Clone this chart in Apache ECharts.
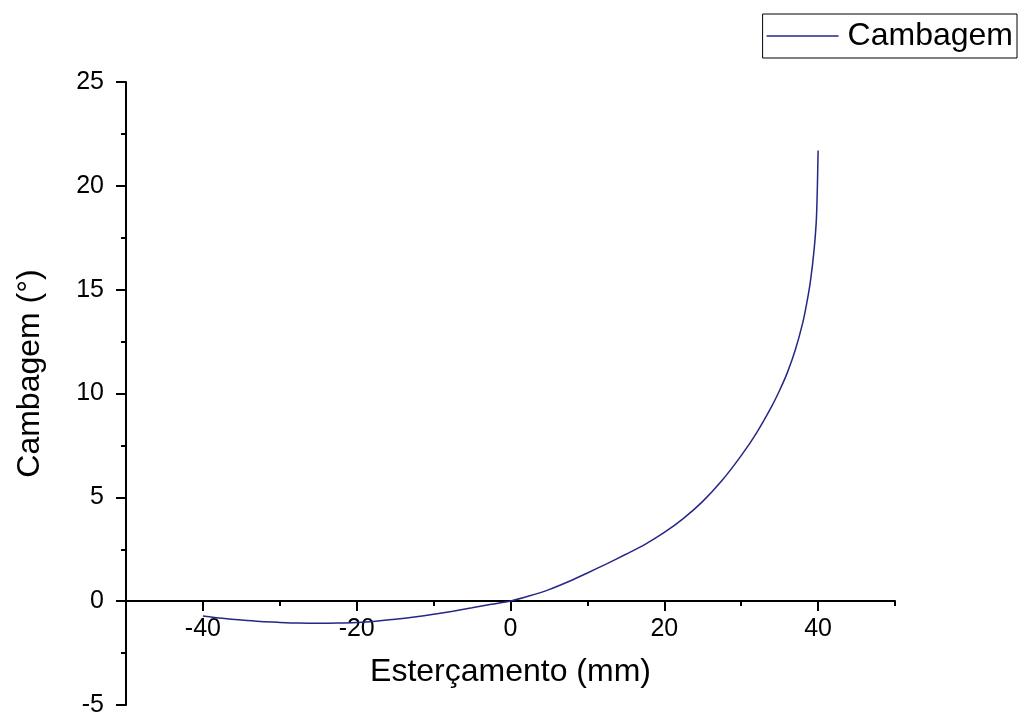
<!DOCTYPE html>
<html>
<head>
<meta charset="utf-8">
<title>Cambagem x Esterçamento</title>
<script src="https://cdn.jsdelivr.net/npm/echarts@6/dist/echarts.min.js"></script>
<style>
  html, body { margin: 0; padding: 0; background: #ffffff; }
  #chart { width: 1022px; height: 713px; }
</style>
</head>
<body>
<div id="chart"></div>
<script>
// Steering travel (mm) and resulting camber angle (degrees)
const esterc = [
  -40, -37.5, -35, -32.5, -30, -27.5, -25, -22.5, -20, -17.5, -15, -12.5, -10, -7.5, -5, -2.5,
  0, 2.5, 5, 7.5, 10, 12.5, 15, 17.5, 20, 22.5, 25, 27.5, 30, 32, 34, 35, 36, 37, 38, 38.5, 39, 39.5, 39.8, 40
];
const cambagem = [
  -0.72, -0.83, -0.92, -0.99, -1.03, -1.06, -1.07, -1.06, -1.03, -0.97, -0.88, -0.77, -0.64, -0.49, -0.33, -0.16,
  0, 0.25, 0.55, 0.93, 1.35, 1.79, 2.25, 2.73, 3.3, 3.98, 4.8, 5.8, 7.0, 8.1, 9.4, 10.15, 11.0, 12.05, 13.4, 14.3, 15.4, 17.0, 18.6, 21.7
];

// Axis ticks
const xMajorTicks = [-40, -20, 0, 20, 40];
const xMinorTicks = [-50, -30, -10, 10, 30, 50];

const seriesName = 'Cambagem';
const xTitle = 'Esterçamento (mm)';
const yTitle = 'Cambagem (°)';

const FONT = "'Liberation Sans', Arial, sans-serif";
const points = esterc.map((x, i) => [x, cambagem[i]]);

const chart = echarts.init(document.getElementById('chart'), null, { renderer: 'canvas' });

// Grid 0 carries the full-height camber axis (-5..25).
// Grid 1 spans 0..25 with the same scale, so its bottom edge is the zero line
// where the steering axis sits.
const AX = { color: '#000000', width: 2 };

chart.setOption({
  backgroundColor: '#ffffff',
  animation: false,
  textStyle: { fontFamily: FONT },
  grid: [
    { left: 126, right: 127, top: 82, bottom: 8, containLabel: false, outerBoundsMode: 'none' },
    { left: 126, right: 127, top: 82, bottom: 112, containLabel: false, outerBoundsMode: 'none' }
  ],
  legend: {
    data: [{ name: seriesName, icon: 'rect' }],
    right: 5,
    top: 14,
    orient: 'horizontal',
    itemWidth: 72,
    itemHeight: 1.5,
    itemGap: 10,
    padding: [6, 4, 6, 4],
    borderColor: '#000000',
    borderWidth: 1,
    textStyle: { fontFamily: FONT, fontSize: 32, color: '#000000', padding: [0, 0, 0, 4] }
  },
  xAxis: [
    {
      gridIndex: 1,
      type: 'value',
      min: -50,
      max: 50,
      position: 'bottom',
      splitLine: { show: false },
      axisLine: { show: true, onZero: false, lineStyle: AX },
      axisTick: { show: true, customValues: xMajorTicks, length: 10, inside: false, lineStyle: AX },
      axisLabel: { customValues: xMajorTicks, margin: 16, fontFamily: FONT, fontSize: 25, color: '#000000' },
      name: xTitle,
      nameLocation: 'middle',
      nameGap: 55,
      nameTextStyle: { fontFamily: FONT, fontSize: 32, color: '#000000' }
    },
    {
      gridIndex: 1,
      type: 'value',
      min: -50,
      max: 50,
      position: 'bottom',
      splitLine: { show: false },
      axisLine: { show: false, onZero: false },
      axisTick: { show: true, customValues: xMinorTicks, length: 5, inside: false, lineStyle: AX },
      axisLabel: { show: false }
    },
    {
      gridIndex: 0,
      type: 'value',
      min: -50,
      max: 50,
      show: false
    }
  ],
  yAxis: [
    {
      gridIndex: 0,
      type: 'value',
      min: -5,
      max: 25,
      interval: 5,
      splitLine: { show: false },
      axisLine: { show: true, onZero: false, lineStyle: AX },
      axisTick: { show: true, length: 10, lineStyle: AX },
      minorTick: { show: true, splitNumber: 2, length: 5, lineStyle: AX },
      minorSplitLine: { show: false },
      axisLabel: { margin: 22, fontFamily: FONT, fontSize: 25, color: '#000000' },
      name: yTitle,
      nameLocation: 'middle',
      nameRotate: 90,
      nameGap: 80,
      nameTextStyle: { fontFamily: FONT, fontSize: 32, color: '#000000', padding: [0, 0, 0, 40] }
    },
    {
      gridIndex: 1,
      type: 'value',
      min: 0,
      max: 25,
      show: false
    }
  ],
  series: [
    {
      name: seriesName,
      type: 'line',
      xAxisIndex: 0,
      yAxisIndex: 1,
      clip: false,
      data: points,
      smooth: 0.3,
      symbol: 'none',
      showSymbol: false,
      lineStyle: { color: '#262686', width: 1.5 },
      itemStyle: { color: '#262686' }
    }
  ]
});
</script>
</body>
</html>
